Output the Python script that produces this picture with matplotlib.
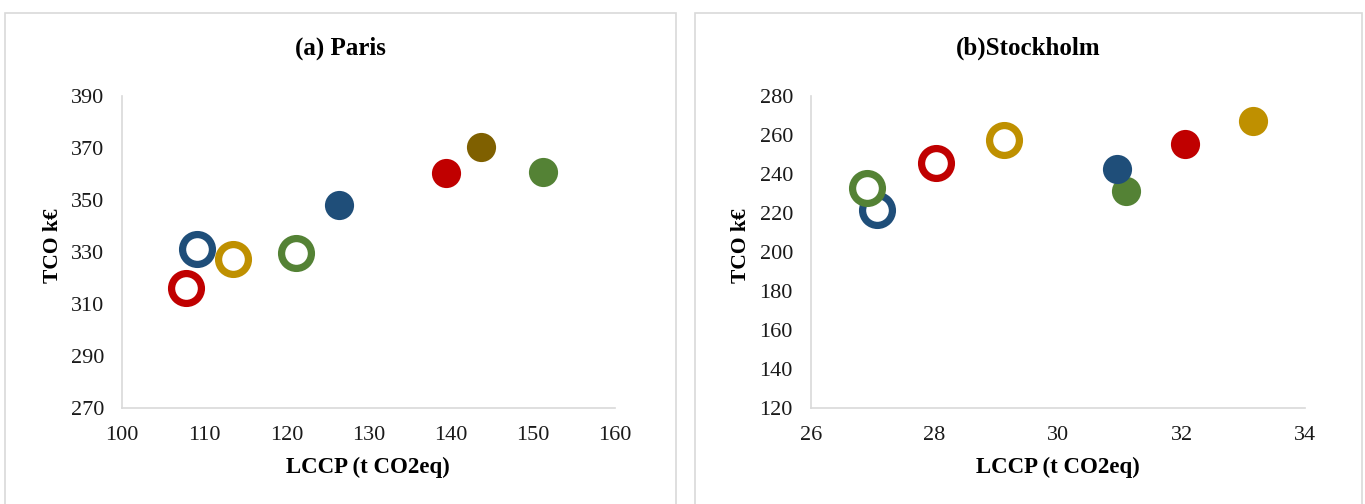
import matplotlib
matplotlib.use("Agg")
import matplotlib.pyplot as plt
from matplotlib.patches import Rectangle

plt.rcParams["font.family"] = ["Liberation Serif", "DejaVu Serif"]

# ---------------------------------------------
# Data
# ---------------------------------------------
BLUE, RED, GOLD, GREEN, BROWN = "#1F4E79", "#C00000", "#BF9000", "#548235", "#7F6000"

paris_x      = [107.8, 109.1, 113.5, 121.2, 126.4, 139.4, 143.7, 151.2]
paris_y      = [316.0, 331.0, 327.2, 329.5, 348.0, 360.4, 370.5, 360.9]
paris_colors = [RED, BLUE, GOLD, GREEN, BLUE, RED, BROWN, GREEN]
paris_filled = [False, False, False, False, True, True, True, True]

sthlm_x      = [27.07, 26.91, 28.02, 29.13, 31.10, 30.95, 32.06, 33.15]
sthlm_y      = [221.5, 233.0, 245.5, 257.4, 231.3, 242.6, 255.4, 267.3]
sthlm_colors = [BLUE, GREEN, RED, GOLD, GREEN, BLUE, RED, GOLD]
sthlm_filled = [False, False, False, False, True, True, True, True]

panels = [
    dict(title="(a) Paris", x=paris_x, y=paris_y, c=paris_colors, f=paris_filled,
         xlim=(100, 160), xt=range(100, 161, 10), ylim=(270, 390), yt=range(270, 391, 20),
         rect=(5, 676), ax=(122, 615), tx=340, xl=368, yl=53),
    dict(title="(b)Stockholm", x=sthlm_x, y=sthlm_y, c=sthlm_colors, f=sthlm_filled,
         xlim=(26, 34), xt=range(26, 35, 2), ylim=(120, 280), yt=range(120, 281, 20),
         rect=(695, 1362), ax=(811, 1305), tx=1028, xl=1058, yl=741),
]

W, H = 1365, 504
fig = plt.figure(figsize=(W / 100, H / 100), dpi=100)

for p in panels:
    # chart frame
    x0, x1 = p["rect"]
    fig.patches.append(Rectangle((x0 / W, -0.02), (x1 - x0) / W, 1 - 13 / H + 0.02,
                                 transform=fig.transFigure, fill=False,
                                 edgecolor="#d9d9d9", linewidth=1.2))

    a0, a1 = p["ax"]
    ax = fig.add_axes([a0 / W, 1 - 408 / H, (a1 - a0) / W, (408 - 96) / H])
    for xi, yi, ci, fi in zip(p["x"], p["y"], p["c"], p["f"]):
        if fi:
            ax.plot(xi, yi, "o", ms=21, color=ci, mec=ci, mew=0, clip_on=False)
        else:
            ax.plot(xi, yi, "o", ms=21.5, mfc="white", mec=ci, mew=5.2, clip_on=False)

    ax.set_xlim(*p["xlim"])
    ax.set_ylim(*p["ylim"])
    ax.set_xticks(list(p["xt"]))
    ax.set_yticks(list(p["yt"]))
    ax.tick_params(length=0, labelsize=16, pad=13, colors="#1a1a1a")
    for s in ("top", "right"):
        ax.spines[s].set_visible(False)
    for s in ("left", "bottom"):
        ax.spines[s].set_color("#d9d9d9")
        ax.spines[s].set_linewidth(1.2)

    fig.text(p["tx"] / W, 1 - 48 / H, p["title"], ha="center", va="center",
             fontsize=18, fontweight="bold")
    fig.text(p["xl"] / W, 1 - 467 / H, "LCCP (t CO2eq)", ha="center", va="center",
             fontsize=16.5, fontweight="bold")
    fig.text(p["yl"] / W, 1 - 246 / H, "TCO k€", ha="center", va="center",
             rotation=90, fontsize=15.5, fontweight="bold")

fig.savefig("out.png", dpi=100)
